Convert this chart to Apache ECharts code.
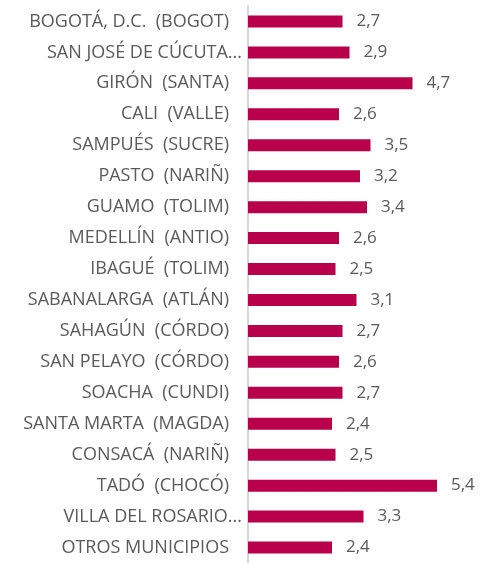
<!DOCTYPE html>
<html>
<head>
<meta charset="utf-8">
<script src="https://cdn.jsdelivr.net/npm/echarts@6/dist/echarts.min.js"></script>
<style>
  html, body { margin: 0; padding: 0; background: #fff; }
  #barChart { width: 481px; height: 563px; }
</style>
</head>
<body>
<div id="barChart"></div>
<script>
// municipios (de arriba hacia abajo)
const municipios = [
  'BOGOTÁ, D.C.  (BOGOT)',
  'SAN JOSÉ DE CÚCUTA...',
  'GIRÓN  (SANTA)',
  'CALI  (VALLE)',
  'SAMPUÉS  (SUCRE)',
  'PASTO  (NARIÑ)',
  'GUAMO  (TOLIM)',
  'MEDELLÍN  (ANTIO)',
  'IBAGUÉ  (TOLIM)',
  'SABANALARGA  (ATLÁN)',
  'SAHAGÚN  (CÓRDO)',
  'SAN PELAYO  (CÓRDO)',
  'SOACHA  (CUNDI)',
  'SANTA MARTA  (MAGDA)',
  'CONSACÁ  (NARIÑ)',
  'TADÓ  (CHOCÓ)',
  'VILLA DEL ROSARIO...',
  'OTROS MUNICIPIOS'
]
// valores
const valores = [2.7, 2.9, 4.7, 2.6, 3.5, 3.2, 3.4, 2.6, 2.5, 3.1, 2.7, 2.6, 2.7, 2.4, 2.5, 5.4, 3.3, 2.4]

const chart = echarts.init(document.getElementById('barChart'))
const option = {
  animation: false,
  grid: {
    left: 248,
    right: 23,
    top: 6,
    bottom: -1
  },
  xAxis: {
    type: 'value',
    min: 0,
    max: 6,
    show: false
  },
  yAxis: {
    type: 'category',
    inverse: true,
    data: municipios,
    axisTick: { show: false },
    axisLine: {
      show: true,
      lineStyle: { color: '#d9d9d9', width: 2 }
    },
    axisLabel: {
      color: '#5a5a5a',
      fontFamily: 'Open Sans',
      fontSize: 18,
      margin: 6,
      // los nombres recortados llegan más cerca del eje
      formatter: v => v.endsWith('...') ? '{t|' + v + '}' : '{n|' + v + '}',
      rich: {
        n: { color: '#5a5a5a', fontFamily: 'Open Sans', fontSize: 18, padding: [0, 13, 0, 0] },
        t: { color: '#5a5a5a', fontFamily: 'Open Sans', fontSize: 18 }
      }
    }
  },
  series: [
    {
      type: 'bar',
      data: valores,
      barWidth: 12,
      itemStyle: { color: '#b8004b' },
      label: {
        show: true,
        position: 'right',
        distance: 14,
        color: '#5a5a5a',
        fontFamily: 'Open Sans',
        fontSize: 17,
        formatter: p => String(p.value).replace('.', ',')
      }
    }
  ]
}
chart.setOption(option, true)
</script>
</body>
</html>
